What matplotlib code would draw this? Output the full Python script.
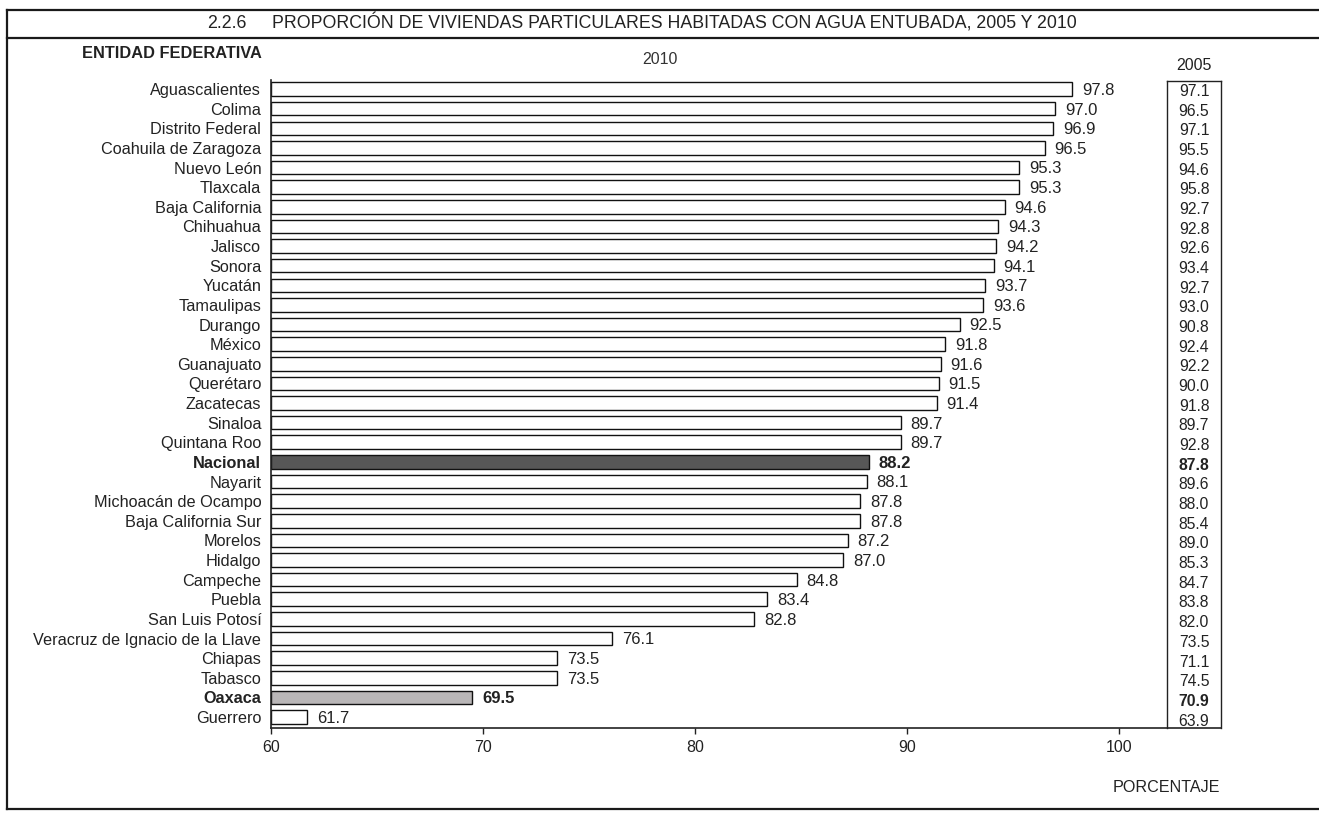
import matplotlib
matplotlib.use("Agg")
import matplotlib.pyplot as plt
from matplotlib.lines import Line2D

plt.rcParams['font.family'] = ['Liberation Sans', 'DejaVu Sans']

entidades = ["Aguascalientes", "Colima", "Distrito Federal", "Coahuila de Zaragoza",
             "Nuevo León", "Tlaxcala", "Baja California", "Chihuahua", "Jalisco",
             "Sonora", "Yucatán", "Tamaulipas", "Durango", "México", "Guanajuato",
             "Querétaro", "Zacatecas", "Sinaloa", "Quintana Roo", "Nacional",
             "Nayarit", "Michoacán de Ocampo", "Baja California Sur", "Morelos",
             "Hidalgo", "Campeche", "Puebla", "San Luis Potosí",
             "Veracruz de Ignacio de la Llave", "Chiapas", "Tabasco", "Oaxaca",
             "Guerrero"]
valores_2010 = [97.8, 97.0, 96.9, 96.5, 95.3, 95.3, 94.6, 94.3, 94.2, 94.1, 93.7,
                93.6, 92.5, 91.8, 91.6, 91.5, 91.4, 89.7, 89.7, 88.2, 88.1, 87.8,
                87.8, 87.2, 87.0, 84.8, 83.4, 82.8, 76.1, 73.5, 73.5, 69.5, 61.7]
valores_2005 = [97.1, 96.5, 97.1, 95.5, 94.6, 95.8, 92.7, 92.8, 92.6, 93.4, 92.7,
                93.0, 90.8, 92.4, 92.2, 90.0, 91.8, 89.7, 92.8, 87.8, 89.6, 88.0,
                85.4, 89.0, 85.3, 84.7, 83.8, 82.0, 73.5, 71.1, 74.5, 70.9, 63.9]
ticks_x = [60, 70, 80, 90, 100]

W, H = 1319, 815
fig = plt.figure(figsize=(W / 100, H / 100), dpi=100)

def fx(px):
    return px / W

def fy(py):
    return 1 - py / H

ax_l, ax_r, ax_t, ax_b = 271, 1221, 80, 728
ax = fig.add_axes([fx(ax_l), fy(ax_b), fx(ax_r - ax_l), (ax_b - ax_t) / H])

xmin = 60
xmax = 60 + (ax_r - ax_l) / 21.2
n = len(entidades)
ax.set_xlim(xmin, xmax)
ax.set_ylim(n - 0.44, -0.46)

highlight = {"Nacional": "#575757", "Oaxaca": "#b9b6b7"}
ypos = list(range(n))
colors = [highlight.get(e, "white") for e in entidades]
ax.barh(ypos, [v - xmin for v in valores_2010], left=xmin, height=0.69,
        color=colors, edgecolor="#111111", linewidth=1.0)

fs_lab = 11.7
fs_val = 12.0
fs_05 = 11.3
fs_tick = 11.5
txt = "#222222"

for i, (e, v) in enumerate(zip(entidades, valores_2010)):
    bold = e in highlight
    ax.annotate(f"{v:.1f}", xy=(v, i), xytext=(7, -1), textcoords="offset points",
                ha="left", va="center", fontsize=fs_val, color=txt,
                fontweight="bold" if bold else "normal")

# 2005 column
col_l = 60 + (1167 - ax_l) / 21.2
col_c = (col_l + xmax) / 2
ax.plot([col_l, col_l], [n - 0.44, -0.42], color=txt, lw=1.0, clip_on=False)
ax.plot([xmax, xmax], [n - 0.44, -0.42], color=txt, lw=1.0, clip_on=False)
ax.plot([col_l, xmax], [-0.42, -0.42], color=txt, lw=1.0, clip_on=False)
for i, (e, v) in enumerate(zip(entidades, valores_2005)):
    bold = e in highlight
    off = (2.5 + 1.5 * i / (n - 1)) / 19.6
    ax.text(col_c, i + off, f"{v:.1f}", ha="center", va="center", fontsize=fs_05,
            color=txt, fontweight="bold" if bold else "normal")

ax.set_yticks(ypos)
ax.set_yticklabels(entidades, fontsize=fs_lab, color=txt)
for lab in ax.get_yticklabels():
    if lab.get_text() in highlight:
        lab.set_fontweight("bold")
ax.tick_params(axis="y", length=0, pad=7)
ax.set_xticks(ticks_x)
ax.set_xticklabels([str(t) for t in ticks_x], fontsize=fs_tick, color=txt)
ax.tick_params(axis="x", length=4, width=1, pad=5, direction="out", color=txt)

for s in ["top", "right"]:
    ax.spines[s].set_visible(False)
for s in ["left", "bottom"]:
    ax.spines[s].set_color(txt)
    ax.spines[s].set_linewidth(1.2)

# headers
fig.text(fx(262), fy(54), "ENTIDAD FEDERATIVA", ha="right", va="center",
         fontsize=11.8, fontweight="bold", color=txt)
fig.text(fx(660), fy(60), "2010", ha="center", va="center", fontsize=fs_tick, color="#333333")
fig.text(fx(1194), fy(65), "2005", ha="center", va="center", fontsize=fs_tick, color=txt)
fig.text(fx(1220), fy(787), "PORCENTAJE", ha="right", va="center", fontsize=11.6,
         color=txt)

# title
fig.text(fx(247), fy(23), "2.2.6", ha="right", va="center", fontsize=12.8, color=txt)
fig.text(fx(272), fy(23),
         "PROPORCIÓN DE VIVIENDAS PARTICULARES HABITADAS CON AGUA ENTUBADA, 2005 Y 2010",
         ha="left", va="center", fontsize=12.8, color=txt)

# frame lines
lc = "#1a1a1a"
fig.add_artist(Line2D([fx(7), 1], [fy(10), fy(10)], color=lc, lw=1.6))
fig.add_artist(Line2D([fx(7), 1], [fy(38), fy(38)], color=lc, lw=1.6))
fig.add_artist(Line2D([fx(7), fx(7)], [fy(10), fy(809)], color=lc, lw=1.6))
fig.add_artist(Line2D([fx(7), 1], [fy(809), fy(809)], color=lc, lw=1.6))

fig.savefig("out.png", dpi=100, facecolor="white")
